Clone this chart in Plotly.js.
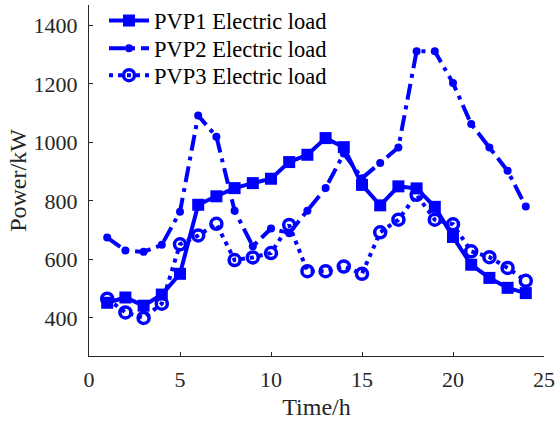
<!DOCTYPE html>
<html><head><meta charset="utf-8">
<script src="https://cdn.plot.ly/plotly-3.0.1.min.js"></script>
<style>html,body{margin:0;padding:0;background:#fff}#c{width:555px;height:423px}</style>
</head><body><div id="c"></div>
<script>
const hours = [1,2,3,4,5,6,7,8,9,10,11,12,13,14,15,16,17,18,19,20,21,22,23,24];
const pvp1 = [452,470,442,480,551,787,816,844,861,876,933,958,1015,984,855,785,850,843,780,677,582,537,503,485];
const pvp2 = [675,631,626,650,763,1092,1020,767,645,706,690,767,844,962,878,930,983,1312,1312,1203,1063,983,903,781];
const pvp3 = [466,419,400,449,652,682,722,598,607,622,718,560,560,576,551,693,736,821,736,720,628,608,571,527];
const names = ['PVP1 Electric load','PVP2 Electric load','PVP3 Electric load'];
const blue = '#0000FF';
const FAM = 'Liberation Serif';
const traces = [
 {x:hours,y:pvp1,name:names[0],legend:'legend',mode:'lines+markers',line:{color:blue,width:4,dash:'solid'},marker:{symbol:'square',size:12,color:blue}},
 {x:hours,y:pvp2,name:names[1],legend:'legend2',mode:'lines+markers',line:{color:blue,width:4,dash:'16px,6px,4px,6px'},marker:{symbol:'circle',size:8,color:blue}},
 {x:hours,y:pvp3,name:names[2],legend:'legend3',mode:'lines+markers',line:{color:blue,width:4,dash:'4px,5px'},marker:{symbol:'circle-open',size:11,color:blue,line:{width:3.5,color:blue}}}
];
function leg(y){return {x:0.033,y:y,xanchor:'left',yanchor:'middle',bgcolor:'rgba(0,0,0,0)',font:{family:FAM,size:22.5,color:'#000'},itemwidth:40};}
const layout = {
 width:555,height:423,
 margin:{l:89,r:11,t:5,b:67,autoexpand:false},
 paper_bgcolor:'#fff',plot_bgcolor:'#fff',
 font:{family:FAM,color:'#262626',size:22},
 showlegend:true,
 legend:leg(0.955),legend2:leg(0.876),legend3:leg(0.799),
 xaxis:{range:[0,25],tickvals:[0,5,10,15,20,25],showgrid:false,zeroline:false,showline:true,linecolor:'#262626',linewidth:1,ticks:'inside',ticklen:4,tickcolor:'#262626',automargin:false,
   title:{text:'Time/h',font:{size:24,family:FAM,color:'#262626'},standoff:6},tickfont:{size:22,family:FAM,color:'#262626'},ticklabelstandoff:4},
 yaxis:{range:[270,1470],tickvals:[400,600,800,1000,1200,1400],showgrid:false,zeroline:false,showline:true,linecolor:'#262626',linewidth:1,ticks:'inside',ticklen:4,tickcolor:'#262626',automargin:false,
   title:{text:'Power/kW',font:{size:24,family:FAM,color:'#262626'},standoff:0},tickfont:{size:22,family:FAM,color:'#262626'},ticklabelstandoff:6}
};
Plotly.newPlot('c',traces,layout,{displayModeBar:false,staticPlot:true});
</script></body></html>
